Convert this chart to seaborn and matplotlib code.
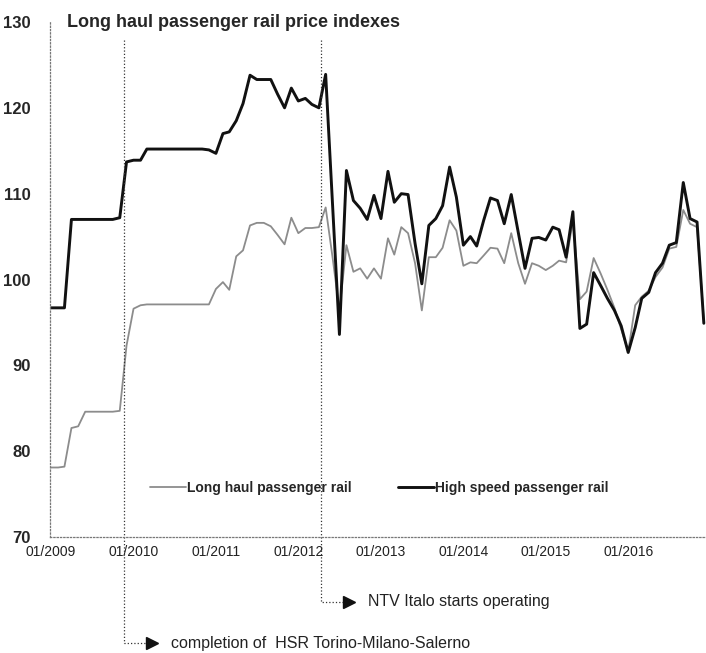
import pandas as pd
import seaborn as sns
import matplotlib.pyplot as plt
import matplotlib.dates as mdates

# monthly price indexes, 01/2009 - 12/2016
months = pd.date_range('2009-01-01', periods=96, freq='MS')

long_haul = [78.1, 78.1, 78.2, 82.7, 82.9, 84.6, 84.6, 84.6, 84.6, 84.6, 84.7, 92.3,
             96.6, 97.0, 97.1, 97.1, 97.1, 97.1, 97.1, 97.1, 97.1, 97.1, 97.1, 97.1,
             98.9, 99.7, 98.8, 102.7, 103.4, 106.3, 106.6, 106.6, 106.2, 105.2, 104.1, 107.2,
             105.4, 106.0, 106.0, 106.1, 108.4, 102.5, 96.4, 104.0, 100.9, 101.3, 100.1, 101.3,
             100.1, 104.8, 102.9, 106.1, 105.4, 101.9, 96.4, 102.6, 102.6, 103.7, 106.9, 105.7,
             101.6, 102.0, 101.9, 102.8, 103.7, 103.6, 101.9, 105.4, 101.9, 99.5, 101.9, 101.6,
             101.1, 101.6, 102.2, 102.0, 106.9, 97.7, 98.6, 102.5, 100.7, 98.8, 96.7, 94.2,
             91.6, 97.0, 98.0, 98.7, 100.3, 101.4, 103.6, 103.8, 108.1, 106.5, 106.1, 95.3]

high_speed = [96.7, 96.7, 96.7, 107.0, 107.0, 107.0, 107.0, 107.0, 107.0, 107.0, 107.2, 113.7,
              113.9, 113.9, 115.2, 115.2, 115.2, 115.2, 115.2, 115.2, 115.2, 115.2, 115.2, 115.1,
              114.7, 117.0, 117.2, 118.5, 120.5, 123.8, 123.3, 123.3, 123.3, 121.6, 120.0, 122.3,
              120.8, 121.1, 120.4, 120.0, 123.9, 108.5, 93.6, 112.7, 109.2, 108.3, 107.0, 109.8,
              107.1, 112.6, 109.0, 110.0, 109.9, 104.2, 99.5, 106.3, 107.1, 108.6, 113.1, 109.6,
              104.0, 105.0, 103.9, 106.9, 109.5, 109.2, 106.5, 109.9, 105.5, 101.3, 104.8, 104.9,
              104.6, 106.1, 105.8, 102.6, 107.9, 94.3, 94.8, 100.8, 99.3, 97.8, 96.4, 94.6,
              91.5, 94.4, 97.8, 98.5, 100.8, 101.9, 104.0, 104.3, 111.3, 107.1, 106.7, 94.9]

tick_years = [str(y) for y in range(2009, 2017)]

# event date, label, height of the label row (axes fraction, below the x axis)
events = [('2012-04-10', 'NTV Italo starts operating', -0.126),
          ('2009-11-20', 'completion of  HSR Torino-Milano-Salerno', -0.206)]

df = pd.DataFrame({'month': months, 'Long haul passenger rail': long_haul,
                   'High speed passenger rail': high_speed})

sns.set_style('white')
plt.rcParams['font.family'] = ['Liberation Sans', 'DejaVu Sans']

fig = plt.figure(figsize=(7.06, 6.53), dpi=100)
ax = fig.add_axes([0.0708, 0.1776, 0.929, 0.7887])

sns.lineplot(data=df, x='month', y='Long haul passenger rail', ax=ax,
             color='#8c8c8c', linewidth=1.3, label='Long haul passenger rail')
sns.lineplot(data=df, x='month', y='High speed passenger rail', ax=ax,
             color='#111111', linewidth=2.1, label='High speed passenger rail')

ax.set_ylim(70, 130)
ax.set_xlim(pd.Timestamp('2008-12-27'), pd.Timestamp('2016-12-10'))
ax.set_yticks(range(70, 131, 10))
ax.set_xticks([pd.Timestamp(y + '-01-01') for y in tick_years])
ax.xaxis.set_major_formatter(mdates.DateFormatter('%m/%Y'))
ax.set_xlabel('')
ax.set_ylabel('')
for lab in ax.get_yticklabels():
    lab.set_fontweight('bold')
ax.tick_params(axis='y', labelsize=12, length=2, color='#777777', pad=12)
ax.tick_params(axis='x', labelsize=10, length=2, color='#777777', pad=4, labelcolor='#222222')

for side in ['top', 'right']:
    ax.spines[side].set_visible(False)
for side in ['left', 'bottom']:
    ax.spines[side].set_linestyle(':')
    ax.spines[side].set_color('#777777')
    ax.spines[side].set_linewidth(0.9)

ax.text(0.026, 1.0, 'Long haul passenger rail price indexes', transform=ax.transAxes,
        fontsize=13, fontweight='bold', ha='left', va='center')

leg = ax.legend(loc='center left', bbox_to_anchor=(0.133, 0.095), ncol=2, frameon=False,
                prop={'size': 10, 'weight': 'bold'}, handlelength=2.6, handletextpad=0.05,
                columnspacing=3.4)

tr = ax.get_xaxis_transform()
for date, label, yfrac in events:
    d = pd.Timestamp(date)
    ax.plot([d, d, d + pd.Timedelta(days=100)], [0.965, yfrac, yfrac], transform=tr,
            color='#333333', linestyle=':', linewidth=0.9, clip_on=False)
    ax.plot([d + pd.Timedelta(days=125)], [yfrac], transform=tr, marker='>',
            markersize=8, color='#111111', clip_on=False)
    ax.text(d + pd.Timedelta(days=210), yfrac, label, transform=tr, fontsize=11.5,
            va='center', ha='left', color='#222222')

fig.savefig('out.png', dpi=100)
